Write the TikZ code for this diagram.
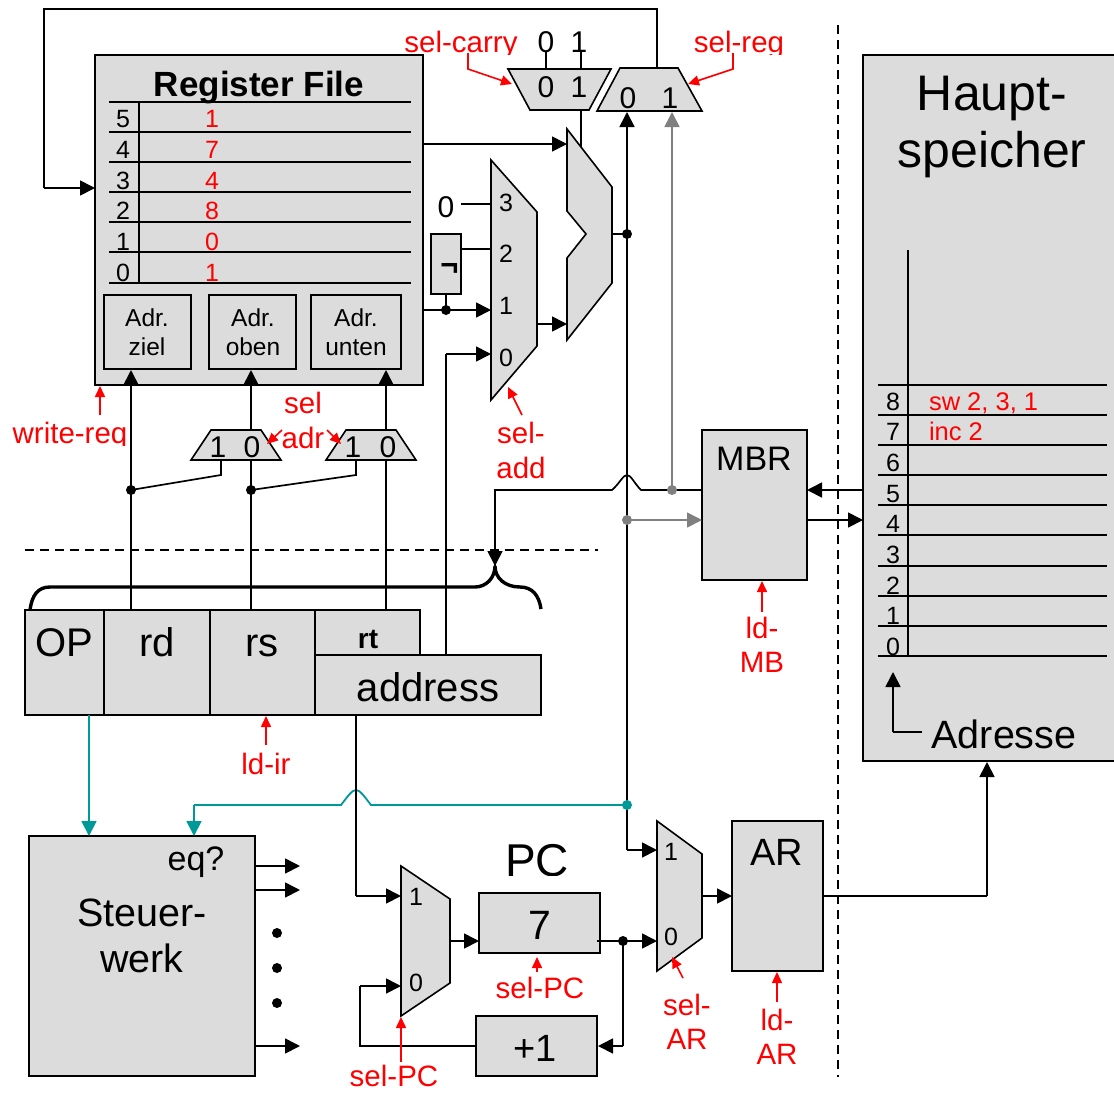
\documentclass[tikz,border=0pt]{standalone}
\usepackage{fontspec}
\setmainfont{Liberation Sans}
\usetikzlibrary{arrows.meta}
\definecolor{boxgray}{HTML}{DCDCDC}
\definecolor{tealc}{HTML}{009999}
\definecolor{graywire}{HTML}{808080}
\newcommand\Tx[6][black]{\node[txt,text=#1,font=\fontsize{#5}{#5}\selectfont] (#2) at (#3,{#4+0.36*#5}) {#6};}
\newcommand\Bx[5]{\pgfmathsetmacro\bwd{#4-#2}\pgfmathsetmacro\bht{#5-#3}\node[boxn,minimum width=\bwd pt,minimum height=\bht pt] (#1) at ({(#2+#4)/2},{(#3+#5)/2}) {};}
\tikzset{
 txt/.style={anchor=base,inner sep=0pt,outer sep=0pt,align=center},
 boxn/.style={draw=black,fill=boxgray,line width=1.6pt,inner sep=0pt,outer sep=0pt},
 muxs/.style={draw=black,fill=boxgray,line width=1.6pt,line join=miter},
 wire/.style={line width=1.7pt,draw=black},
 thin wire/.style={line width=1.4pt,draw=black},
 arr/.style={wire,-{Triangle[length=15pt,width=15pt]}},
 garr/.style={line width=1.7pt,draw=graywire,-{Triangle[length=15pt,width=15pt]}},
 tarr/.style={line width=1.8pt,draw=tealc,-{Triangle[length=15pt,width=15pt]}},
 rarr/.style={line width=1.6pt,draw=red,-{Triangle[length=11pt,width=10pt]}},
 dot/.style={circle,fill=black,inner sep=0pt,minimum size=10pt},
 gdot/.style={circle,fill=graywire,inner sep=0pt,minimum size=10pt},
 tdot/.style={circle,fill=tealc,inner sep=0pt,minimum size=10pt},
 dashl/.style={line width=1.5pt,draw=black,dash pattern=on 9pt off 6pt},
}
\begin{document}
\begin{tikzpicture}[x=1pt,y=-1pt]
\useasboundingbox (0,0) rectangle (1114,1093);
\clip (0,0) rectangle (1114,1093);
\fill[white] (0,0) rectangle (1114,1093);

% ---- boxes
\Bx{regf}{95}{55}{423}{385}
\Bx{adrz}{104}{295}{191}{369}
\Bx{adro}{209}{295}{296}{369}
\Bx{adru}{311}{295}{401}{369}
\Bx{notb}{431}{234}{461}{294}
\Bx{haupt}{863}{55}{1130}{761}
\Bx{mbr}{702}{430}{807}{580}
\Bx{opb}{25}{610}{104}{715}
\Bx{rdb}{104}{610}{210}{715}
\Bx{rsb}{210}{610}{315}{715}
\Bx{rtb}{315}{610}{420}{655}
\Tx{trt}{368}{638}{28}{\textbf{rt}}
\Bx{addr}{315}{655}{541}{715}
\Bx{steu}{29}{836}{255}{1076}
\Bx{pcb}{479}{893}{600}{953}
\Bx{inc}{476}{1016}{597}{1076}
\Bx{arb}{732}{821}{823}{971}

% ---- register table
\foreach \y/\n in {102/a,132/b,162/c,192/d,222/e,252/f,283/g}{
  \coordinate (rl\n) at (109,\y); \coordinate (rr\n) at (411,\y);
  \draw[thin wire] (rl\n) -- (rr\n);}
\coordinate (rvt) at (139,102); \coordinate (rvb) at (139,283);
\draw[thin wire] (rvt) -- (rvb);

% ---- memory table
\foreach \y/\n in {385/a,415/b,445/c,475/d,505/e,535/f,566/g,596/h,626/i,656/j}{
  \coordinate (ml\n) at (878,\y); \coordinate (mr\n) at (1107,\y);
  \draw[thin wire] (ml\n) -- (mr\n);}
\coordinate (mvt) at (908,250); \coordinate (mvb) at (908,656);
\draw[thin wire] (mvt) -- (mvb);

% ---- named points
\coordinate (fbA) at (657,68);  \coordinate (fbB) at (657,9); \coordinate (fbC) at (44,9);
\coordinate (fbD) at (44,188);  \coordinate (fbE) at (95,188);
\coordinate (c0a) at (546,52);  \coordinate (c0b) at (546,68);
\coordinate (c1a) at (581,52);  \coordinate (c1b) at (581,68);
\coordinate (c1c) at (581,111); \coordinate (c1d) at (581,147);
\coordinate (rfA) at (423,144); \coordinate (aluA) at (567,144);
\coordinate (rfB) at (423,310); \coordinate (addm1) at (491,310);
\coordinate (ad0) at (461,204); \coordinate (addm3) at (491,204);
\coordinate (ntE) at (461,249); \coordinate (addm2) at (491,249);
\coordinate (ntS) at (446,294);
\coordinate (adT) at (446,655); \coordinate (adK) at (446,354); \coordinate (addm0) at (491,354);
\coordinate (addO) at (537,324); \coordinate (aluB) at (567,324);
\coordinate (aluO) at (612,234);
\coordinate (regBus) at (627,805); \coordinate (reg0) at (627,112);
\coordinate (reg1) at (672,112);
\coordinate (mbrL) at (702,490); \coordinate (mbrR) at (807,490); \coordinate (memL) at (863,490);
\coordinate (mbrO) at (807,520); \coordinate (memI) at (863,520); \coordinate (mbrI) at (702,520);
\coordinate (hopR) at (641,490); \coordinate (hopL) at (612,490);
\coordinate (brK) at (495,490); \coordinate (brT) at (495,566);
\coordinate (z1) at (131,610); \coordinate (z2) at (131,370);
\coordinate (o1) at (251,610); \coordinate (o2) at (251,370);
\coordinate (u1) at (386,610); \coordinate (u2) at (386,370);
\coordinate (m1a) at (221,460); \coordinate (m1b) at (221,475);
\coordinate (m2a) at (356,460); \coordinate (m2b) at (356,475);
\coordinate (tOP) at (89,715); \coordinate (tSt) at (89,836);
\coordinate (thR) at (371,805); \coordinate (thL) at (341,805);
\coordinate (tK) at (194,805); \coordinate (tE) at (194,836);
\coordinate (aL) at (356,715); \coordinate (aK) at (356,896); \coordinate (pcm1) at (401,896);
\coordinate (pcmO) at (450,941); \coordinate (pcI) at (479,941);
\coordinate (pcO) at (597,941); \coordinate (arm0) at (657,941);
\coordinate (incK) at (623,1046); \coordinate (incE) at (598,1046);
\coordinate (incW) at (476,1046); \coordinate (lpA) at (360,1046); \coordinate (lpB) at (360,986); \coordinate (pcm0) at (401,986);
\coordinate (bK) at (627,850); \coordinate (arm1) at (657,850);
\coordinate (armO) at (702,896); \coordinate (arI) at (732,896);
\coordinate (arO) at (823,896); \coordinate (arK) at (987,896); \coordinate (memB) at (987,762);
\coordinate (s1a) at (255,866); \coordinate (s1b) at (300,866);
\coordinate (s2a) at (255,890); \coordinate (s2b) at (300,890);
\coordinate (s3a) at (255,1046); \coordinate (s3b) at (300,1046);
\coordinate (adrA) at (922,732); \coordinate (adrK) at (893,732); \coordinate (adrT) at (893,672);

% ---- wires
\draw[wire] (fbA) -- (fbB) -- (fbC) -- (fbD);
\draw[arr] (fbD) -- (fbE);
\draw[wire] (c0a) -- (c0b);
\draw[wire] (c1a) -- (c1b);
\draw[wire] (c1c) -- (c1d);
\draw[arr] (rfA) -- (aluA);
\draw[arr] (rfB) -- (addm1);
\draw[wire] (ad0) -- (addm3);
\draw[wire] (ntE) -- (addm2);
\coordinate (ntJ) at (446,310);
\draw[wire] (ntS) -- (ntJ);
\draw[wire] (adT) -- (adK);
\draw[arr] (adK) -- (addm0);
\draw[arr] (addO) -- (aluB);
\coordinate (aluJ) at (627,234);
\draw[wire] (aluO) -- (aluJ);
\draw[arr] (regBus) -- (reg0);
\coordinate (gJ1) at (672,490); \coordinate (gJ2) at (627,520);
\draw[garr] (gJ1) -- (reg1);
\draw[garr] (gJ2) -- (mbrI);
\draw[wire] (mbrL) -- (hopR) .. controls (634,483) and (631,475) .. (627,475) .. controls (623,475) and (620,483) .. (hopL) -- (brK) -- (brT);
\draw[arr] (brK) -- (brT);
\draw[arr] (memL) -- (mbrR);
\draw[arr] (mbrO) -- (memI);
\draw[arr] (z1) -- (z2);
\draw[arr] (o1) -- (o2);
\draw[arr] (u1) -- (u2);
\coordinate (zJ) at (131,490); \coordinate (oJ) at (251,490);
\draw[wire] (m1a) -- (m1b) -- (zJ);
\draw[wire] (m2a) -- (m2b) -- (oJ);
\draw[tarr] (tOP) -- (tSt);
\coordinate (tJ) at (627,805);
\draw[line width=1.8pt,draw=tealc] (tJ) -- (thR) .. controls (364,796) and (360,790) .. (356,790) .. controls (352,790) and (348,796) .. (thL) -- (tK);
\draw[tarr] (tK) -- (tE);
\draw[wire] (aL) -- (aK);
\draw[arr] (aK) -- (pcm1);
\draw[arr] (pcmO) -- (pcI);
\draw[arr] (pcO) -- (arm0);
\coordinate (pcJ) at (623,941);
\draw[wire] (pcJ) -- (incK);
\draw[arr] (incK) -- (incE);
\draw[wire] (incW) -- (lpA) -- (lpB);
\draw[arr] (lpB) -- (pcm0);
\draw[wire] (tJ) -- (bK);
\draw[arr] (bK) -- (arm1);
\draw[arr] (armO) -- (arI);
\draw[wire] (arO) -- (arK);
\draw[arr] (arK) -- (memB);
\draw[arr] (s1a) -- (s1b);
\draw[arr] (s2a) -- (s2b);
\draw[arr] (s3a) -- (s3b);
\draw[wire] (adrA) -- (adrK);
\draw[arr] (adrK) -- (adrT);

% ---- dots
\node[dot] (dAlu) at (aluJ) {};
\node[dot] (dNot) at (ntJ) {};
\node[dot] (dZ) at (zJ) {};
\node[dot] (dO) at (oJ) {};
\node[dot] (dPc) at (pcJ) {};
\node[gdot] (dG1) at (gJ1) {};
\node[gdot] (dG2) at (gJ2) {};
\node[tdot] (dT) at (tJ) {};

% ---- brace
\coordinate (brL) at (30,610); \coordinate (brR) at (541,609);
\draw[line width=3.4pt,line cap=butt] (brL) .. controls (32,595) and (38,587) .. (50,587) -- (475,587) .. controls (486,587) and (495,578) .. (brT) .. controls (495,578) and (505,587) .. (520,587) .. controls (532,587) and (539,595) .. (brR);

% ---- dashed
\coordinate (dhA) at (25,550); \coordinate (dhB) at (598,550);
\coordinate (dvA) at (838,25); \coordinate (dvB) at (838,1077);
\draw[dashl] (dhA) -- (dhB);
\draw[dashl] (dvA) -- (dvB);

% ---- muxes (over wires)
\draw[muxs] (508,69) coordinate (mcA) -- (611,69) -- (589,110) -- (530,110) -- cycle;
\draw[muxs] (620,68) coordinate (mrA) -- (678,68) -- (702,111) -- (597,111) -- cycle;
\draw[muxs] (567,129) coordinate (aluT) -- (612,187) -- (612,283) -- (567,340) -- (567,258) -- (586,234) -- (567,211) -- cycle;
\draw[muxs] (491,160) coordinate (addT) -- (537,212) -- (537,346) -- (491,400) -- cycle;
\draw[muxs] (211,430) coordinate (sa1) -- (261,430) -- (281,460) -- (191,460) -- cycle;
\draw[muxs] (346,430) coordinate (sa2) -- (396,430) -- (416,460) -- (326,460) -- cycle;
\draw[muxs] (401,866) coordinate (pcmT) -- (450,899) -- (450,983) -- (401,1016) -- cycle;
\draw[muxs] (657,821) coordinate (armT) -- (702,854) -- (702,938) -- (657,971) -- cycle;

% ---- red arrows
\coordinate (r1a) at (468,53); \coordinate (r1b) at (468,69); \coordinate (r1c) at (512,84);
\draw[rarr] (r1a) -- (r1b) -- (r1c);
\coordinate (r2a) at (733,53); \coordinate (r2b) at (733,69); \coordinate (r2c) at (688,84);
\draw[rarr] (r2a) -- (r2b) -- (r2c);
\coordinate (r3a) at (100,415); \coordinate (r3b) at (100,386);
\draw[rarr] (r3a) -- (r3b);
\coordinate (r4a) at (282,430); \coordinate (r4b) at (267,444);
\draw[rarr] (r4a) -- (r4b);
\coordinate (r5a) at (327,430); \coordinate (r5b) at (341,444);
\draw[rarr] (r5a) -- (r5b);
\coordinate (r6a) at (522,415); \coordinate (r6b) at (508,387);
\draw[rarr] (r6a) -- (r6b);
\coordinate (r7a) at (266,745); \coordinate (r7b) at (266,716);
\draw[rarr] (r7a) -- (r7b);
\coordinate (r8a) at (762,612); \coordinate (r8b) at (762,581);
\draw[rarr] (r8a) -- (r8b);
\coordinate (r9a) at (537,972); \coordinate (r9b) at (537,957);
\draw[rarr] (r9a) -- (r9b);
\coordinate (r10a) at (401,1062); \coordinate (r10b) at (401,1017);
\draw[rarr] (r10a) -- (r10b);
\coordinate (r11a) at (683,978); \coordinate (r11b) at (672,957);
\draw[rarr] (r11a) -- (r11b);
\coordinate (r12a) at (777,1002); \coordinate (r12b) at (777,972);
\draw[rarr] (r12a) -- (r12b);

% ---- steuerwerk dots
\node[dot] (e1) at (277,933) {};
\node[dot] (e2) at (277,968) {};
\node[dot] (e3) at (277,1003) {};

% ---- text
\Tx{tReg}{259}{84}{35}{\textbf{Register File}}
\foreach \y/\n in {118/5,149/4,180/3,210/2,241/1,272/0}{\Tx{rn\n}{123}{\y}{25}{\n}}
\foreach \y/\n/\v in {118/5/1,149/4/7,180/3/4,210/2/8,241/1/0,272/0/1}{\Tx[red]{rv\n}{212}{\y}{25}{\v}}
\Tx{za}{147}{318}{24.5}{Adr.} \Tx{zb}{147}{347}{24.5}{ziel}
\Tx{oa}{253}{318}{24.5}{Adr.} \Tx{ob}{253}{347}{24.5}{oben}
\Tx{ua}{356}{318}{24.5}{Adr.} \Tx{ub}{356}{347}{24.5}{unten}
\begin{scope}\clip (395,20) rectangle (530,54);
\Tx[red]{tCarry}{461}{42}{29.5}{sel-carry}
\end{scope}
\begin{scope}\clip (680,20) rectangle (800,54);
\Tx[red]{tSr}{739}{42}{29.5}{sel-reg}
\end{scope}
\Tx{t0a}{546}{42}{30}{0} \Tx{t1a}{579}{42}{30}{1}
\Tx{t0b}{546}{87}{30}{0} \Tx{t1b}{579}{87}{30}{1}
\Tx{t0c}{628}{98}{30}{0} \Tx{t1c}{670}{98}{30}{1}
\Tx{a3}{506}{202}{25}{3} \Tx{a2}{506}{253}{25}{2} \Tx{a1}{506}{305}{25}{1} \Tx{a0}{506}{357}{25}{0}
\Tx{tz}{446}{207}{30}{0}
\Tx{tnot}{449.5}{264}{31}{\textbf{¬}}
\begin{scope}\clip (0,410) rectangle (135,445);
\Tx[red]{tWr}{70}{433}{29.5}{write-req}
\end{scope}
\Tx[red]{tSel}{303}{403}{29.5}{sel} \Tx[red]{tAdr}{303}{438}{29.5}{adr}
\Tx{x1}{218}{447}{30}{1} \Tx{x0}{252}{447}{30}{0}
\Tx{y1}{353}{447}{30}{1} \Tx{y0}{388}{447}{30}{0}
\Tx[red]{tSa1}{521}{433}{29.5}{sel-} \Tx[red]{tSa2}{521}{468}{29.5}{add}
\Tx{tMbr}{754}{458}{34}{MBR}
\Tx[red]{tLm1}{762}{628}{29.5}{ld-} \Tx[red]{tLm2}{762}{662}{29.5}{MB}
\Tx{hA}{992}{92}{50}{Haupt-} \Tx{hB}{992}{149}{50}{speicher}
\foreach \y/\n in {401/8,431/7,462/6,493/5,523/4,554/3,585/2,615/1,646/0}{\Tx{mn\n}{893}{\y}{25}{\n}}
\node[txt,anchor=base west,text=red,font=\fontsize{25.5}{25.5}\selectfont] (tSw) at (929,410) {sw 2, 3, 1};
\node[txt,anchor=base west,text=red,font=\fontsize{25.5}{25.5}\selectfont] (tInc) at (929,440) {inc 2};
\Tx{tAdresse}{1004}{734}{39.5}{Adresse}
\Tx{tOP2}{64.5}{642}{40}{OP} \Tx{tRd}{157}{642.5}{40}{rd} \Tx{tRs}{262}{642.5}{40}{rs}
\Tx{tAddress}{428}{687}{40}{address}
\Tx[red]{tLi}{266}{764}{29.5}{ld-ir}
\Tx{tEq}{196}{858}{34}{eq?}
\Tx{tSt1}{142}{912}{39.5}{Steuer-} \Tx{tSt2}{142}{958}{39.5}{werk}
\begin{scope}\clip (490,830) rectangle (590,875);
\Tx{tPC}{537}{860}{46}{PC}
\end{scope}
\Tx{t7}{539.5}{925}{41}{7}
\Tx{tP1}{535}{1048}{38}{+1}
\Tx{p1}{416}{896}{25}{1} \Tx{p0}{416}{982}{25}{0}
\Tx{q1}{671}{851}{25}{1} \Tx{q0}{671}{936}{25}{0}
\Tx{tAR}{777}{852}{38}{AR}
\Tx[red]{tSp}{540}{988}{29.5}{sel-PC}
\Tx[red]{tSp2}{394}{1076}{29.5}{sel-PC}
\Tx[red]{tSr1}{687}{1005}{29.5}{sel-} \Tx[red]{tSr2}{687}{1039}{29.5}{AR}
\Tx[red]{tLa1}{777}{1020}{29.5}{ld-} \Tx[red]{tLa2}{777}{1054}{29.5}{AR}
\end{tikzpicture}
\end{document}
